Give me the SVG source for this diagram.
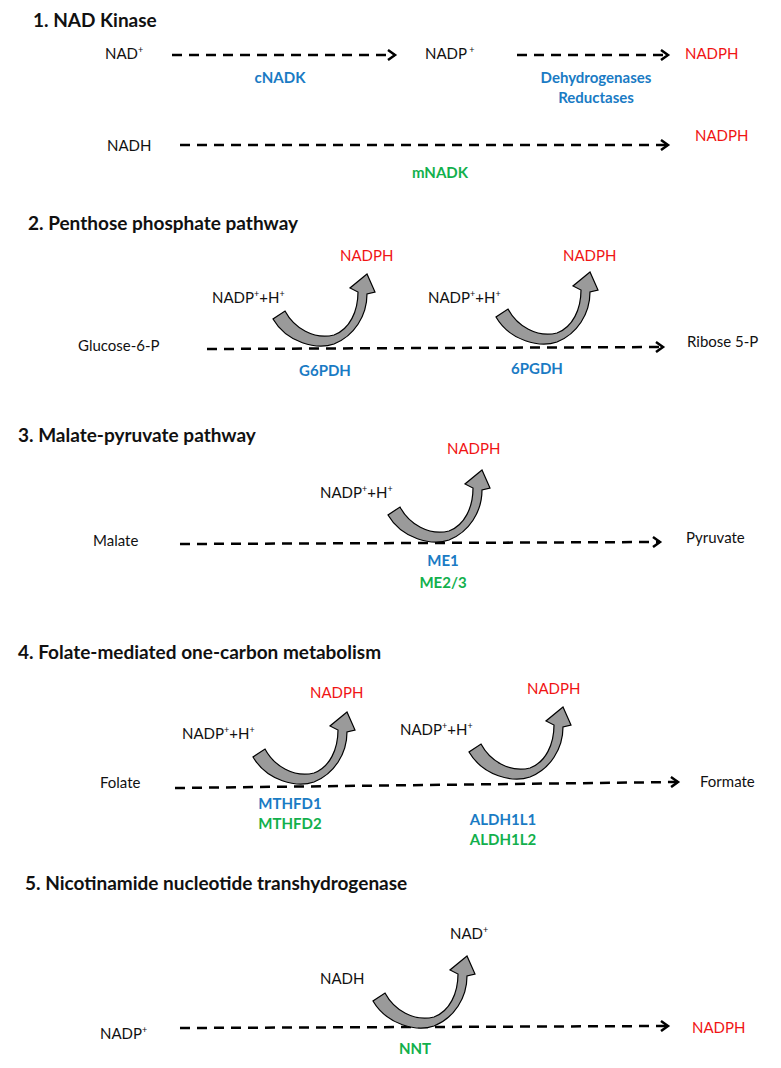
<svg xmlns="http://www.w3.org/2000/svg" width="781" height="1068" viewBox="0 0 781 1068">
<style>
text{font-family:Lato,"Liberation Sans",sans-serif;font-size:15px;fill:#111}
.h{font-size:19px;font-weight:bold}
.e{font-weight:bold;text-anchor:middle}
.b{fill:#1a7bc4}.g{fill:#12b04c}.r{fill:#f01414}
.d{stroke:#000;stroke-width:2.5;stroke-dasharray:10 7;fill:none}
.c{fill:#9a9a9a;stroke:#000;stroke-width:1.2}
</style>
<defs>
<marker id="a" markerWidth="12" markerHeight="12" refX="9" refY="6" orient="auto" markerUnits="userSpaceOnUse"><path d="M2,1 L9,6 L2,11" fill="none" stroke="#000" stroke-width="2.5"/></marker>
<path id="cu" class="c" d="M -49,-27 C -35,-3 -5,4 12,-2 C 32,-10 45,-30 45,-52 L 53,-54 L 45,-72 L 28,-58 L 36,-54 C 36,-35 28,-17 12,-11 C -8,-6 -28,-18 -37,-35 Z"/>
</defs>
<g id="connectors">
<line class="d" x1="172" y1="55" x2="395" y2="55" marker-end="url(#a)"/>
<line class="d" x1="517" y1="55" x2="668" y2="55" marker-end="url(#a)"/>
<line class="d" x1="180" y1="145" x2="668" y2="145" marker-end="url(#a)"/>
<line class="d" x1="207" y1="349" x2="663" y2="347" marker-end="url(#a)"/>
<line class="d" x1="180" y1="544" x2="660" y2="542" marker-end="url(#a)"/>
<line class="d" x1="175" y1="788" x2="678" y2="782" marker-end="url(#a)"/>
<line class="d" x1="180" y1="1028" x2="668" y2="1026" marker-end="url(#a)"/>
<use href="#cu" x="322" y="346"/>
<use href="#cu" x="545" y="344"/>
<use href="#cu" x="437" y="542"/>
<use href="#cu" x="302" y="784"/>
<use href="#cu" x="518" y="779"/>
<use href="#cu" x="422" y="1028"/>
</g>
<g id="s1">
<text class="h" x="33" y="27">1. NAD Kinase</text>
<text x="105" y="59">NAD<tspan font-size="9" dy="-6">+</tspan></text>
<text x="425" y="59">NADP<tspan font-size="9" dy="-6"> +</tspan></text>
<text class="r" x="685" y="59">NADPH</text>
<text class="e b" x="280" y="83">cNADK</text>
<text class="e b" x="596" y="83">Dehydrogenases</text>
<text class="e b" x="596" y="103">Reductases</text>
<text x="107" y="151">NADH</text>
<text class="r" x="695" y="141">NADPH</text>
<text class="e g" x="440" y="178">mNADK</text>
</g>
<g id="s2">
<text class="h" x="28" y="230">2. Penthose phosphate pathway</text>
<text class="r" x="340" y="261">NADPH</text>
<text class="r" x="563" y="261">NADPH</text>
<text x="212" y="303">NADP<tspan font-size="9" dy="-6">+</tspan><tspan dy="6">+H</tspan><tspan font-size="9" dy="-6">+</tspan></text>
<text x="428" y="303">NADP<tspan font-size="9" dy="-6">+</tspan><tspan dy="6">+H</tspan><tspan font-size="9" dy="-6">+</tspan></text>
<text x="78" y="351">Glucose-6-P</text>
<text x="687" y="347">Ribose 5-P</text>
<text class="e b" x="325" y="376">G6PDH</text>
<text class="e b" x="537" y="374">6PGDH</text>
</g>
<g id="s3">
<text class="h" x="18" y="442">3. Malate-pyruvate pathway</text>
<text class="r" x="447" y="454">NADPH</text>
<text x="320" y="498">NADP<tspan font-size="9" dy="-6">+</tspan><tspan dy="6">+H</tspan><tspan font-size="9" dy="-6">+</tspan></text>
<text x="93" y="546">Malate</text>
<text x="686" y="543">Pyruvate</text>
<text class="e b" x="443" y="566">ME1</text>
<text class="e g" x="443" y="588">ME2/3</text>
</g>
<g id="s4">
<text class="h" x="18" y="659">4. Folate-mediated one-carbon metabolism</text>
<text class="r" x="310" y="698">NADPH</text>
<text class="r" x="527" y="694">NADPH</text>
<text x="182" y="739">NADP<tspan font-size="9" dy="-6">+</tspan><tspan dy="6">+H</tspan><tspan font-size="9" dy="-6">+</tspan></text>
<text x="400" y="735">NADP<tspan font-size="9" dy="-6">+</tspan><tspan dy="6">+H</tspan><tspan font-size="9" dy="-6">+</tspan></text>
<text x="100" y="788">Folate</text>
<text x="700" y="787">Formate</text>
<text class="e b" x="290" y="809">MTHFD1</text>
<text class="e g" x="290" y="829">MTHFD2</text>
<text class="e b" x="503" y="825">ALDH1L1</text>
<text class="e g" x="503" y="845">ALDH1L2</text>
</g>
<g id="s5">
<text class="h" x="25" y="890">5. Nicotinamide nucleotide transhydrogenase</text>
<text x="450" y="939">NAD<tspan font-size="9" dy="-6">+</tspan></text>
<text x="320" y="984">NADH</text>
<text x="100" y="1039">NADP<tspan font-size="9" dy="-6">+</tspan></text>
<text class="r" x="692" y="1033">NADPH</text>
<text class="e g" x="415" y="1054">NNT</text>
</g>
</svg>
